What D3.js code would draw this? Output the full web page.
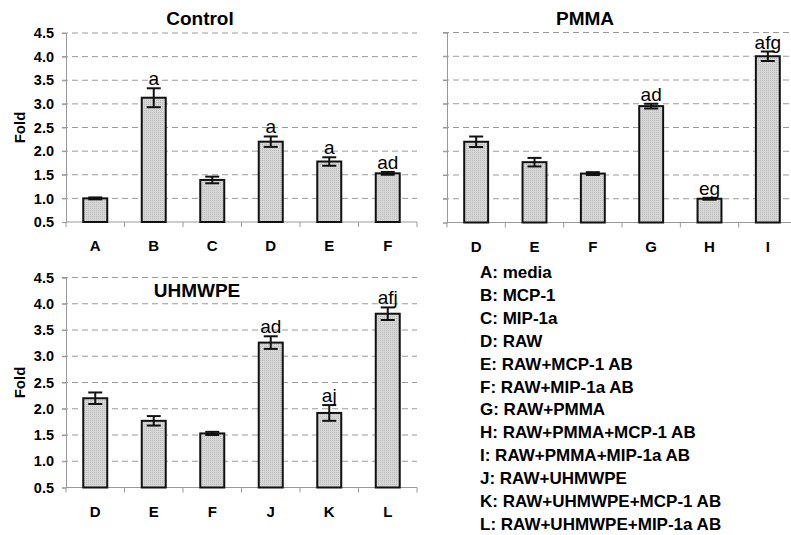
<!DOCTYPE html>
<html>
<head>
<meta charset="utf-8">
<script src="https://cdn.jsdelivr.net/npm/d3@7"></script>
<style>
  body { margin: 0; background: #fff; }
  svg { font-family: Arial, "Liberation Sans", sans-serif; }
</style>
</head>
<body>
<svg width="791" height="535"></svg>
<script>
// data
const controlCats = ['A', 'B', 'C', 'D', 'E', 'F'];
const controlVals = [1.0, 3.13, 1.39, 2.2, 1.78, 1.53];
const controlErr = [0.02, 0.2, 0.07, 0.11, 0.09, 0.03];
const controlSig = ['', 'a', '', 'a', 'a', 'ad'];

const pmmaCats = ['D', 'E', 'F', 'G', 'H', 'I'];
const pmmaVals = [2.2, 1.77, 1.53, 2.95, 1.0, 4.0];
const pmmaErr = [0.11, 0.09, 0.03, 0.05, 0.02, 0.1];
const pmmaSig = ['', '', '', 'ad', 'eg', 'afg'];

const uhmCats = ['D', 'E', 'F', 'J', 'K', 'L'];
const uhmVals = [2.2, 1.77, 1.53, 3.26, 1.92, 3.81];
const uhmErr = [0.11, 0.09, 0.03, 0.12, 0.15, 0.12];
const uhmSig = ['', '', '', 'ad', 'aj', 'afj'];

const yTicks = [0.5, 1.0, 1.5, 2.0, 2.5, 3.0, 3.5, 4.0, 4.5];

const legendItems = [
  'A: media', 'B: MCP-1', 'C: MIP-1a', 'D: RAW', 'E: RAW+MCP-1 AB',
  'F: RAW+MIP-1a AB', 'G: RAW+PMMA', 'H: RAW+PMMA+MCP-1 AB',
  'I:  RAW+PMMA+MIP-1a AB', 'J: RAW+UHMWPE', 'K: RAW+UHMWPE+MCP-1 AB',
  'L: RAW+UHMWPE+MIP-1a AB'
];

const svg = d3.select('svg');

// dotted gray fill like the original
const defs = svg.append('defs');
const pat = defs.append('pattern')
    .attr('id', 'dots')
    .attr('width', 2)
    .attr('height', 2)
    .attr('patternUnits', 'userSpaceOnUse');
pat.append('rect').attr('width', 2).attr('height', 2).attr('fill', '#d6d6d6');
pat.append('rect').attr('width', 1).attr('height', 1).attr('fill', '#bdbdbd');

function panel(opts) {
  const g = svg.append('g');
  const x = d3.scaleBand()
      .domain(opts.cats)
      .range([opts.left, opts.right]);
  const y = d3.scaleLinear()
      .domain([0.5, 4.5])
      .range([opts.bottom, opts.top]);

  // grid
  g.selectAll('.grid')
    .data(yTicks.slice(1))
    .join('line')
      .attr('x1', opts.left - 4)
      .attr('x2', opts.right)
      .attr('y1', d => y(d))
      .attr('y2', d => y(d))
      .attr('stroke', '#9a9a9a')
      .attr('stroke-width', 1)
      .attr('stroke-dasharray', '6,4');

  // y axis
  const yAxis = g.append('g')
      .attr('transform', `translate(${opts.left},0)`)
      .call(d3.axisLeft(y).tickValues(yTicks).tickSize(4).tickPadding(8)
        .tickFormat(opts.yLabels ? d3.format('.1f') : ''));
  yAxis.select('.domain').attr('stroke', '#999');
  yAxis.selectAll('.tick line').attr('stroke', '#999');
  yAxis.selectAll('.tick text')
      .attr('font-size', 14.5)
      .attr('font-weight', 'bold')
      .attr('fill', '#000');

  // x axis: ticks at category boundaries
  const xb = opts.bottom;
  g.append('line')
      .attr('x1', opts.left).attr('x2', opts.right)
      .attr('y1', xb).attr('y2', xb)
      .attr('stroke', '#999');
  const bounds = opts.cats.map(c => x(c)).concat([opts.right]);
  g.selectAll('.xtick')
    .data(bounds)
    .join('line')
      .attr('x1', d => d).attr('x2', d => d)
      .attr('y1', xb).attr('y2', xb + 5)
      .attr('stroke', '#999');
  g.selectAll('.xlab')
    .data(opts.cats)
    .join('text')
      .attr('x', d => x(d) + x.bandwidth() / 2)
      .attr('y', xb + 29)
      .attr('text-anchor', 'middle')
      .attr('font-size', 15)
      .attr('font-weight', 'bold')
      .text(d => d);

  const bw = x.bandwidth() * 0.41;
  const rows = opts.cats.map((c, i) => ({ c, v: opts.vals[i], e: opts.err[i], s: opts.sig[i] }));

  g.selectAll('.bar')
    .data(rows)
    .join('rect')
      .attr('x', d => x(d.c) + (x.bandwidth() - bw) / 2)
      .attr('y', d => y(d.v))
      .attr('width', bw)
      .attr('height', d => y(0.5) - y(d.v))
      .attr('fill', 'url(#dots)')
      .attr('stroke', '#111')
      .attr('stroke-width', 2);

  // error bars
  const cap = 7;
  const eb = g.selectAll('.err').data(rows).join('g')
      .attr('stroke', '#111')
      .attr('stroke-width', 2);
  eb.append('line')
      .attr('x1', d => x(d.c) + x.bandwidth() / 2)
      .attr('x2', d => x(d.c) + x.bandwidth() / 2)
      .attr('y1', d => y(d.v + d.e))
      .attr('y2', d => y(d.v - d.e));
  eb.append('line')
      .attr('x1', d => x(d.c) + x.bandwidth() / 2 - cap)
      .attr('x2', d => x(d.c) + x.bandwidth() / 2 + cap)
      .attr('y1', d => y(d.v + d.e))
      .attr('y2', d => y(d.v + d.e));
  eb.append('line')
      .attr('x1', d => x(d.c) + x.bandwidth() / 2 - cap)
      .attr('x2', d => x(d.c) + x.bandwidth() / 2 + cap)
      .attr('y1', d => y(d.v - d.e))
      .attr('y2', d => y(d.v - d.e));

  // significance letters
  g.selectAll('.sig')
    .data(rows.filter(d => d.s))
    .join('text')
      .attr('x', d => x(d.c) + x.bandwidth() / 2)
      .attr('y', d => y(d.v + d.e) - 3)
      .attr('text-anchor', 'middle')
      .attr('font-size', 19)
      .text(d => d.s);

  // title
  g.append('text')
      .attr('x', opts.titleX)
      .attr('y', opts.titleY)
      .attr('text-anchor', 'middle')
      .attr('font-size', 19)
      .attr('font-weight', 'bold')
      .text(opts.title);

  if (opts.yLabels) {
    g.append('text')
      .attr('transform', `translate(${opts.left - 41},${(opts.top + opts.bottom) / 2}) rotate(-90)`)
      .attr('text-anchor', 'middle')
      .attr('font-size', 15)
      .attr('font-weight', 'bold')
      .text('Fold');
  }
}

panel({ cats: controlCats, vals: controlVals, err: controlErr, sig: controlSig,
  left: 66, right: 417, top: 33, bottom: 222, yLabels: true,
  title: 'Control', titleX: 200, titleY: 25 });

panel({ cats: pmmaCats, vals: pmmaVals, err: pmmaErr, sig: pmmaSig,
  left: 447, right: 797, top: 32.5, bottom: 222.5, yLabels: false,
  title: 'PMMA', titleX: 585, titleY: 25 });

panel({ cats: uhmCats, vals: uhmVals, err: uhmErr, sig: uhmSig,
  left: 66, right: 417, top: 277.5, bottom: 487.5, yLabels: true,
  title: 'UHMWPE', titleX: 197, titleY: 297 });

// legend
svg.append('g')
  .selectAll('text')
  .data(legendItems)
  .join('text')
    .attr('x', 480)
    .attr('y', (d, i) => 278 + i * 22.9)
    .attr('font-size', 17)
    .attr('font-weight', 'bold')
    .text(d => d);
</script>
</body>
</html>
